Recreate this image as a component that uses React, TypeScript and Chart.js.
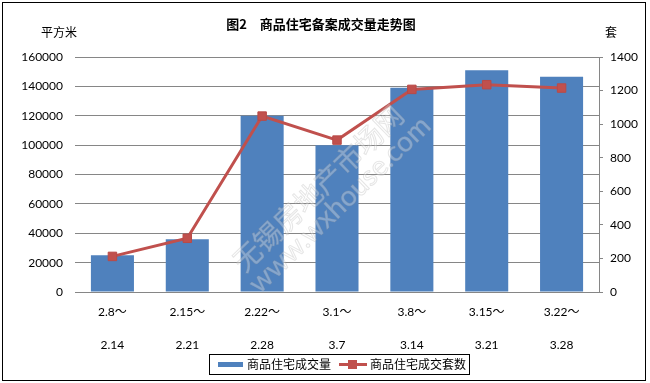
import React, { useEffect, useRef } from "react";
import { Chart, registerables } from "chart.js";

Chart.register(...registerables);

const categoriesTop = ["2.8～", "2.15～", "2.22～", "3.1～", "3.8～", "3.15～", "3.22～"];
const categoriesBottom = ["2.14", "2.21", "2.28", "3.7", "3.14", "3.21", "3.28"];
const areaValues = [25000, 36000, 120000, 100000, 139000, 151000, 146500];
const unitValues = [212, 320, 1048, 905, 1207, 1235, 1215];
const leftTicks = [0, 20000, 40000, 60000, 80000, 100000, 120000, 140000, 160000];
const rightTicks = [0, 200, 400, 600, 800, 1000, 1200, 1400];

const TITLE = "图2　商品住宅备案成交量走势图";
const LEFT_UNIT = "平方米";
const RIGHT_UNIT = "套";
const SERIES_BAR = "商品住宅成交量";
const SERIES_LINE = "商品住宅成交套数";

const BLUE = "#4F81BD";
const RED = "#C0504D";
const GRID = "#868686";
const CJK = '"Noto Sans CJK SC", "Noto Sans", sans-serif';
const NUM = 'Lato, "Noto Sans CJK SC", sans-serif';

const decorPlugin = {
  id: "decor",
  afterDatasetsDraw(chart: any) {
    const ctx = chart.ctx;
    ctx.save();
    ctx.translate(318, 188);
    ctx.rotate((-44 * Math.PI) / 180);
    ctx.textAlign = "center";
    ctx.textBaseline = "middle";
    ctx.lineWidth = 1;
    ctx.fillStyle = "rgba(255,255,255,0.3)";
    ctx.strokeStyle = "rgba(160,160,160,0.28)";
    ctx.font = `28px ${CJK}`;
    ctx.fillText("无锡房地产市场网", 0, 0);
    ctx.strokeText("无锡房地产市场网", 0, 0);
    ctx.font = `28px ${NUM}`;
    ctx.fillText("www.wxhouse.com", 4, 27);
    ctx.strokeText("www.wxhouse.com", 4, 27);
    ctx.restore();
  },
  afterDraw(chart: any) {
    const ctx = chart.ctx;
    ctx.save();
    ctx.strokeStyle = "#000";
    ctx.lineWidth = 1;
    ctx.strokeRect(2.5, 2.5, 643, 378);
    ctx.fillStyle = "#000";
    ctx.textBaseline = "middle";
    ctx.textAlign = "center";
    ctx.font = `bold 13px ${CJK}`;
    ctx.fillText(TITLE, 321, 24);
    ctx.font = `12px ${CJK}`;
    ctx.fillText(LEFT_UNIT, 59, 32);
    ctx.fillText(RIGHT_UNIT, 611, 32);
    ctx.strokeStyle = "#000";
    ctx.strokeRect(209.5, 354.5, 260, 20);
    ctx.fillStyle = BLUE;
    ctx.fillRect(218, 362, 25, 5);
    ctx.fillStyle = "#000";
    ctx.textAlign = "left";
    ctx.font = `12px ${CJK}`;
    ctx.fillText(SERIES_BAR, 247, 364.5);
    ctx.strokeStyle = RED;
    ctx.lineWidth = 3;
    ctx.beginPath();
    ctx.moveTo(339, 364.5);
    ctx.lineTo(367, 364.5);
    ctx.stroke();
    ctx.fillStyle = RED;
    ctx.fillRect(348, 360, 9, 9);
    ctx.fillStyle = "#000";
    ctx.fillText(SERIES_LINE, 370, 364.5);
    ctx.restore();
  },
};

export default function App() {
  const ref = useRef<HTMLCanvasElement | null>(null);
  useEffect(() => {
    document.body.style.margin = "0";
    const labels = categoriesTop.map((t, i) => [t, categoriesBottom[i]]);
    const chart = new Chart(ref.current as HTMLCanvasElement, {
      type: "bar",
      data: {
        labels,
        datasets: [
          {
            type: "line",
            label: SERIES_LINE,
            data: unitValues,
            yAxisID: "y1",
            borderColor: RED,
            backgroundColor: RED,
            borderWidth: 3,
            pointStyle: "rect",
            pointRadius: 6,
            pointBackgroundColor: RED,
            pointBorderColor: "#B94A47",
            pointBorderWidth: 1,
            order: 0,
          } as any,
          {
            type: "bar",
            label: SERIES_BAR,
            data: areaValues,
            yAxisID: "y",
            backgroundColor: BLUE,
            barPercentage: 0.575,
            categoryPercentage: 1,
            order: 1,
          },
        ],
      },
      options: {
        responsive: false,
        animation: false,
        devicePixelRatio: 1,
        layout: { padding: { left: 0, right: 0, top: 57, bottom: 0 } },
        plugins: { legend: { display: false }, tooltip: { enabled: false }, title: { display: false } },
        scales: {
          x: {
            grid: { display: false, drawTicks: false },
            border: { display: false },
            ticks: {
              color: "#000",
              padding: 4,
              maxRotation: 0,
              autoSkip: false,
              font: { family: NUM, size: 12, lineHeight: "33px" } as any,
            },
            afterFit(scale: any) {
              scale.height = 91;
            },
          },
          y: {
            position: "left",
            min: 0,
            max: 160000,
            afterBuildTicks(scale: any) {
              scale.ticks = leftTicks.map((v) => ({ value: v }));
            },
            grid: { color: GRID, lineWidth: 1, drawTicks: false },
            border: { display: false },
            ticks: {
              color: "#000",
              padding: 12,
              font: { family: NUM, size: 12 },
              callback: (v: any) => String(v),
            },
            afterFit(scale: any) {
              scale.width = 75;
            },
          },
          y1: {
            position: "right",
            min: 0,
            max: 1400,
            afterBuildTicks(scale: any) {
              scale.ticks = rightTicks.map((v) => ({ value: v }));
            },
            grid: { drawOnChartArea: false, drawTicks: true, tickLength: 4, color: GRID },
            border: { display: true, color: GRID, width: 1 },
            ticks: {
              color: "#000",
              padding: 7,
              font: { family: NUM, size: 12 },
              callback: (v: any) => String(v),
            },
            afterFit(scale: any) {
              scale.width = 51;
            },
          },
        },
      },
      plugins: [decorPlugin],
    });
    return () => chart.destroy();
  }, []);
  return <canvas ref={ref} width={650} height={383} style={{ display: "block" }} />;
}
